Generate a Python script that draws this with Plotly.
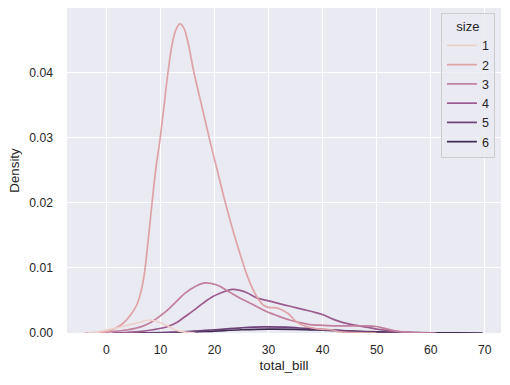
import plotly.graph_objects as go

# ---- data ----
sizes = ["1", "2", "3", "4", "5", "6"]

x1 = [-3.5, -2, 0, 2, 4.0, 6, 8, 10.2, 11.5, 12.7, 13.9, 16.5]
y1 = [0, 0.0001, 0.00045, 0.0008, 0.0012, 0.0016, 0.002, 0.0015, 0.001, 0.0005, 0.0002, 0]

x2 = [-4, -2, 0, 1.57, 3.1, 4.5, 5.6, 6.4, 7.0, 7.5, 8.0, 8.5, 9.1, 9.9, 10.6, 11.3, 12.2,
      12.9, 13.6, 14.3, 15.1, 16.2, 17.8, 19.1, 20.5, 22.0, 23.5, 25.0, 26.0, 27.1,
      28.1, 29.0, 30.2, 31.2, 32.1, 33.6, 35.2, 37.0, 39.5, 41.5, 43.0, 46, 50]
y2 = [0, 0.00005, 0.0002, 0.0007, 0.0015, 0.0028, 0.0043, 0.0064, 0.009, 0.0125, 0.0165,
      0.0205, 0.025, 0.0297, 0.0345, 0.0395, 0.0446, 0.0467, 0.0475, 0.0469, 0.0446, 0.040,
      0.0343, 0.0297, 0.025, 0.020, 0.0155, 0.0114, 0.0089, 0.0067, 0.0052, 0.0043,
      0.0039, 0.0039, 0.0037, 0.003, 0.0017, 0.001, 0.0006, 0.0005, 0.0002, 0.00005, 0]

x3 = [-3.5, -1, 1, 4.0, 6.2, 8.35, 9.9, 11.4, 13.0, 14.5, 16.5, 18.2, 19.5, 21.0, 22.5,
      24, 25.3, 27.5, 29.6, 31.8, 33.9, 35.8, 37.6, 39.5, 42, 45, 47.5, 49.9, 52, 54.3,
      56, 58, 61]
y3 = [0, 0.00005, 0.0002, 0.0005, 0.0009, 0.0017, 0.0026, 0.0036, 0.0049, 0.0061, 0.0072,
      0.0077, 0.0076, 0.0072, 0.0064, 0.0057, 0.0051, 0.0042, 0.0033, 0.0026,
      0.002, 0.0016, 0.0013, 0.0012, 0.0011, 0.0011, 0.0011, 0.001, 0.0006, 0.0002,
      0.0001, 0.00002, 0]

x4 = [1, 4, 6, 8.65, 11.4, 13, 14.5, 16, 17.9, 19.7, 21, 22.3, 23.4, 24.5, 26, 27.8, 30.2,
      32.5, 34.5, 36.5, 38, 40.1, 42, 43.8, 46, 48.1, 50, 52.4, 54, 56, 58, 60]
y4 = [0, 0.0001, 0.0002, 0.0005, 0.001, 0.0016, 0.0025, 0.0034, 0.0046, 0.0056, 0.0061,
      0.0065, 0.0067, 0.0066, 0.0062, 0.0054, 0.0049, 0.0044, 0.004, 0.0036, 0.0033,
      0.0028, 0.0021, 0.0016, 0.0012, 0.0009, 0.0006, 0.00033, 0.0002, 0.00007, 0.00002, 0]

x5 = [5, 10, 15, 20, 25, 29, 33, 37, 41, 45, 50, 54, 57]
y5 = [0, 0.00005, 0.0002, 0.0005, 0.0008, 0.00095, 0.0009, 0.0007, 0.0005, 0.0003,
      0.0001, 0.00003, 0]

x6 = [5, 10, 15, 20, 25, 30, 35, 40, 45, 50, 55, 60, 65, 69.6]
y6 = [0, 0.00003, 0.0001, 0.0003, 0.0005, 0.0006, 0.00057, 0.00045, 0.0003, 0.00018,
      0.0001, 0.00004, 0.00001, 0]

xs = [x1, x2, x3, x4, x5, x6]
ys = [y1, y2, y3, y4, y5, y6]

x_ticks = [0, 10, 20, 30, 40, 50, 60, 70]
y_ticks = [0.0, 0.01, 0.02, 0.03, 0.04]

colors = ["#efd1cb", "#dea2a7", "#c27f9e", "#9c5b8e", "#6d4278", "#3f2a52"]

FONT = "Liberation Sans, Arial, Helvetica, sans-serif"
TXT = "#262626"

fig = go.Figure()
# seaborn draws hue levels in reverse order (6 first, 1 on top)
for i in reversed(range(len(sizes))):
    fig.add_trace(go.Scatter(
        x=xs[i], y=ys[i], mode="lines", name=sizes[i],
        line=dict(color=colors[i], width=1.7, shape="spline", smoothing=1.0),
        hoverinfo="skip",
    ))

fig.update_layout(
    width=510, height=385,
    margin=dict(l=67, r=9, t=8, b=52),
    paper_bgcolor="white",
    plot_bgcolor="#eaeaf2",
    font=dict(family=FONT, size=12, color=TXT),
    showlegend=True,
    legend=dict(
        title=dict(text="size", side="top center", font=dict(size=13, color=TXT)),
        traceorder="reversed",
        x=0.986, xanchor="right", y=0.985, yanchor="top",
        bgcolor="rgba(234,234,242,0.8)",
        bordercolor="#cccccc", borderwidth=1,
        font=dict(size=12.5, color=TXT),
        itemwidth=30,
        entrywidth=22,
        tracegroupgap=0,
    ),
)

fig.update_xaxes(
    range=[-7.3, 73.0],
    tickvals=x_ticks, ticktext=[str(v) for v in x_ticks],
    showgrid=True, gridcolor="white", gridwidth=1.1,
    zeroline=False, showline=False, ticks="",
    ticklabelstandoff=8, automargin=False,
    tickfont=dict(size=12.2, color=TXT),
    title=dict(text="total_bill", font=dict(size=13.3, color=TXT), standoff=4),
)
fig.update_yaxes(
    range=[0, 0.04995],
    tickvals=y_ticks, ticktext=["%.2f" % v for v in y_ticks],
    showgrid=True, gridcolor="white", gridwidth=1.1,
    zeroline=False, showline=False, ticks="",
    ticklabelstandoff=13, automargin=False,
    tickfont=dict(size=12.2, color=TXT),
    title=dict(text="Density", font=dict(size=13.3, color=TXT), standoff=6),
)

fig.write_html(
    "out.html",
    config={"displayModeBar": False},
    post_script="document.body.style.margin='0';document.body.style.overflow='hidden';",
)
